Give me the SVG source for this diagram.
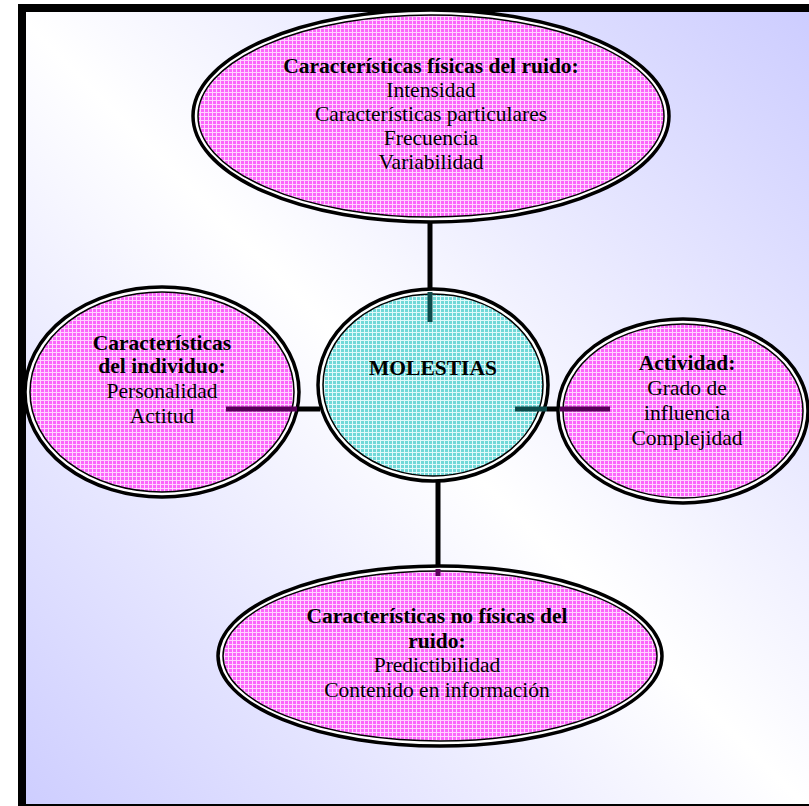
<svg xmlns="http://www.w3.org/2000/svg" width="809" height="806" viewBox="0 0 809 806">
<defs>
<linearGradient id="bg" gradientUnits="userSpaceOnUse" x1="809" y1="0" x2="0" y2="806">
<stop offset="0" stop-color="#ccccff"/>
<stop offset="0.5" stop-color="#ffffff"/>
<stop offset="1" stop-color="#ccccff"/>
</linearGradient>
<pattern id="pink" patternUnits="userSpaceOnUse" width="4" height="4">
<rect width="4" height="4" fill="#fb66fb"/>
<rect width="4" height="1" fill="#ffd4ff"/>
<rect width="1" height="4" fill="#ffd4ff"/>
</pattern>
<pattern id="cyan" patternUnits="userSpaceOnUse" width="4" height="4">
<rect width="4" height="4" fill="#70d8d8"/>
<rect width="4" height="1" fill="#e0fafa"/>
<rect width="1" height="4" fill="#e0fafa"/>
</pattern>
</defs>
<style>
.outer{fill:#ffffff;stroke:#000000;stroke-width:3.5}
.inner{stroke:#000000;stroke-width:1.5}
.p{fill:url(#pink)}
.c{fill:url(#cyan)}
text{font-family:"Liberation Serif","Times New Roman",serif;font-size:21.5px;fill:#000000;text-anchor:middle}
.b{font-weight:bold}
.k{stroke:#000000;stroke-width:5}
.dp{stroke:#5a005a;stroke-width:5}
.dt{stroke:#0d4a4a;stroke-width:5}
</style>
<rect x="22" y="8" width="800" height="800" fill="url(#bg)" stroke="#000000" stroke-width="8"/>
<g id="connectors-under">
<line class="k" x1="430" y1="220" x2="430" y2="292"/>
<line class="k" x1="438" y1="478" x2="438" y2="569"/>
<line class="k" x1="297" y1="409" x2="320" y2="409"/>
<line class="k" x1="547" y1="409" x2="560" y2="409"/>
</g>
<g id="node-top">
<ellipse class="outer" cx="431" cy="116" rx="238" ry="106"/>
<ellipse class="inner p" cx="431" cy="116" rx="233" ry="101"/>
<text x="431" y="73" class="b">Características físicas del ruido:</text>
<text x="431" y="97">Intensidad</text>
<text x="431" y="121">Características particulares</text>
<text x="431" y="145">Frecuencia</text>
<text x="431" y="169">Variabilidad</text>
</g>
<g id="node-left">
<ellipse class="outer" cx="162" cy="392" rx="137" ry="105"/>
<ellipse class="inner p" cx="162" cy="392" rx="132" ry="100"/>
<text x="162" y="350" class="b">Características</text>
<text x="162" y="373" class="b">del individuo:</text>
<text x="162" y="398">Personalidad</text>
<text x="162" y="423">Actitud</text>
</g>
<g id="node-center">
<ellipse class="outer" cx="433" cy="385" rx="115" ry="96"/>
<ellipse class="inner c" cx="433" cy="385" rx="110" ry="91"/>
<text x="433" y="375" class="b">MOLESTIAS</text>
</g>
<g id="node-right">
<ellipse class="outer" cx="683" cy="411" rx="125" ry="92"/>
<ellipse class="inner p" cx="683" cy="411" rx="120" ry="87"/>
<text x="687" y="370" class="b">Actividad:</text>
<text x="687" y="395">Grado de</text>
<text x="687" y="420">influencia</text>
<text x="687" y="445">Complejidad</text>
</g>
<g id="node-bottom">
<ellipse class="outer" cx="440" cy="656" rx="222" ry="90"/>
<ellipse class="inner p" cx="440" cy="656" rx="217" ry="85"/>
<text x="437" y="623" class="b">Características no físicas del</text>
<text x="437" y="648" class="b">ruido:</text>
<text x="437" y="672">Predictibilidad</text>
<text x="437" y="697">Contenido en información</text>
</g>
<g id="connectors">
<line class="dt" x1="430" y1="292" x2="430" y2="322"/>
<line class="dp" x1="438" y1="569" x2="438" y2="576"/>
<line class="dp" x1="226" y1="409" x2="297" y2="409"/>
<line class="dt" x1="515" y1="409" x2="547" y2="409"/>
<line class="dp" x1="560" y1="409" x2="610" y2="409"/>
</g>
</svg>
